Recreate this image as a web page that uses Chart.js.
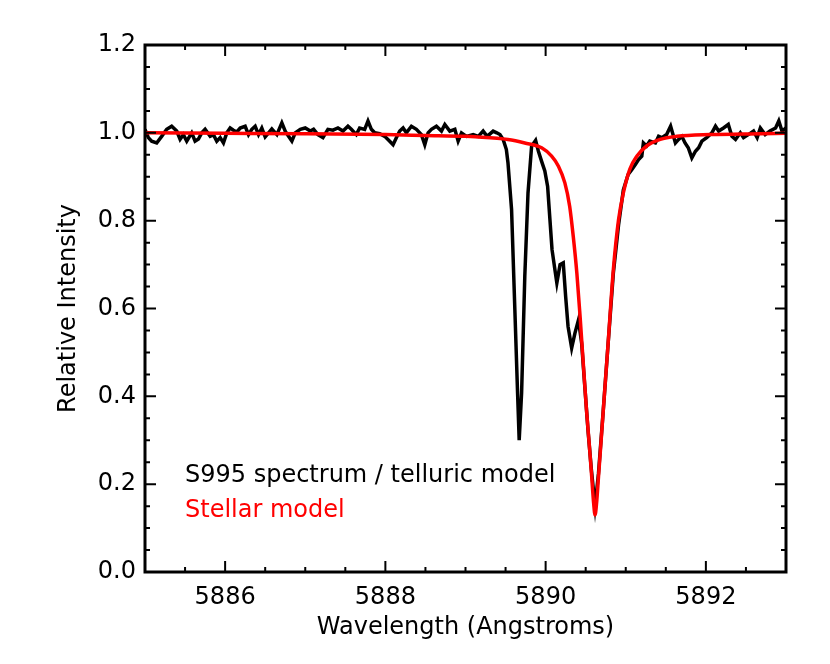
<!DOCTYPE html>
<html>
<head>
<meta charset="utf-8">
<script src="https://cdn.jsdelivr.net/npm/chart.js@4/dist/chart.umd.min.js"></script>
<style>
  body { margin: 0; background: #fff; }
  canvas { display: block; }
</style>
</head>
<body>
<canvas id="spectrum" width="830" height="664"></canvas>
<script>
// Observed spectrum (divided by telluric model)
var blackWave = [
  5885.000, 5885.042, 5885.083, 5885.146, 5885.208, 5885.271, 5885.333, 5885.396, 5885.438, 5885.479,
  5885.521, 5885.583, 5885.625, 5885.667, 5885.708, 5885.750, 5885.813, 5885.854, 5885.896, 5885.938,
  5885.979, 5886.021, 5886.063, 5886.104, 5886.146, 5886.188, 5886.250, 5886.292, 5886.333, 5886.375,
  5886.417, 5886.458, 5886.500, 5886.542, 5886.583, 5886.646, 5886.708, 5886.750, 5886.792, 5886.833,
  5886.875, 5886.938, 5887.000, 5887.063, 5887.104, 5887.158, 5887.221, 5887.283, 5887.346, 5887.408,
  5887.471, 5887.533, 5887.575, 5887.637, 5887.679, 5887.742, 5887.783, 5887.825, 5887.867, 5887.929,
  5887.992, 5888.054, 5888.096, 5888.137, 5888.179, 5888.221, 5888.262, 5888.325, 5888.387, 5888.450,
  5888.492, 5888.533, 5888.575, 5888.637, 5888.700, 5888.742, 5888.804, 5888.867, 5888.908, 5888.950,
  5889.012, 5889.096, 5889.160, 5889.220, 5889.270, 5889.345, 5889.390, 5889.430, 5889.470, 5889.510,
  5889.530, 5889.575, 5889.616, 5889.650, 5889.670, 5889.700, 5889.740, 5889.780, 5889.825, 5889.875,
  5889.910, 5889.950, 5889.990, 5890.025, 5890.054, 5890.080, 5890.116, 5890.140, 5890.180, 5890.220,
  5890.250, 5890.280, 5890.325, 5890.366, 5890.410, 5890.450, 5890.490, 5890.530, 5890.570, 5890.617,
  5890.660, 5890.720, 5890.780, 5890.845, 5890.910, 5890.970, 5891.030, 5891.075, 5891.120, 5891.160,
  5891.200, 5891.220, 5891.260, 5891.300, 5891.370, 5891.410, 5891.450, 5891.510, 5891.560, 5891.620,
  5891.660, 5891.700, 5891.740, 5891.780, 5891.825, 5891.870, 5891.910, 5891.950, 5892.010, 5892.075,
  5892.120, 5892.160, 5892.220, 5892.280, 5892.325, 5892.370, 5892.430, 5892.470, 5892.530, 5892.595,
  5892.640, 5892.680, 5892.740, 5892.800, 5892.870, 5892.910, 5892.950, 5893.000
];
var blackFlux = [
  1.008, 0.989, 0.981, 0.977, 0.992, 1.008, 1.015, 1.004, 0.985, 0.996,
  0.981, 1.000, 0.981, 0.986, 1.000, 1.008, 0.992, 0.996, 0.981, 0.989,
  0.977, 1.000, 1.011, 1.006, 1.002, 1.011, 1.015, 0.996, 1.008, 1.015,
  0.996, 1.011, 0.991, 1.000, 1.009, 0.996, 1.023, 1.004, 0.992, 0.981,
  1.000, 1.008, 1.011, 1.004, 1.008, 0.996, 0.989, 1.008, 1.006, 1.011,
  1.004, 1.015, 1.008, 0.996, 1.011, 1.008, 1.027, 1.008, 1.000, 0.998,
  0.992, 0.981, 0.973, 0.989, 1.004, 1.011, 1.000, 1.015, 1.008, 0.996,
  0.973, 1.000, 1.008, 1.015, 1.004, 1.019, 1.004, 1.008, 0.981, 1.000,
  0.992, 0.996, 0.992, 1.004, 0.992, 1.004, 1.000, 0.996, 0.985, 0.962,
  0.932, 0.825, 0.597, 0.407, 0.300, 0.407, 0.673, 0.863, 0.970, 0.983,
  0.958, 0.935, 0.913, 0.878, 0.802, 0.734, 0.688, 0.658, 0.700, 0.704,
  0.627, 0.559, 0.510, 0.544, 0.574, 0.520, 0.420, 0.320, 0.235, 0.150,
  0.225, 0.370, 0.520, 0.680, 0.790, 0.870, 0.905, 0.916, 0.928, 0.939,
  0.947, 0.977, 0.970, 0.981, 0.977, 0.992, 0.989, 0.996, 1.015, 0.977,
  0.985, 0.992, 0.977, 0.966, 0.943, 0.958, 0.966, 0.981, 0.989, 1.000,
  1.015, 1.004, 1.011, 1.019, 0.992, 0.985, 1.000, 0.989, 0.996, 1.004,
  0.989, 1.011, 0.996, 1.004, 1.011, 1.027, 1.004, 1.011
];

// Stellar model
var redWave = [
  5885.00, 5886.00, 5887.00, 5888.00, 5888.50, 5889.00, 5889.12, 5889.53, 5889.74, 5889.95,
  5890.075, 5890.16, 5890.24, 5890.30, 5890.345, 5890.39, 5890.43, 5890.47, 5890.51, 5890.55,
  5890.575, 5890.60, 5890.617, 5890.635, 5890.66, 5890.72, 5890.78, 5890.845, 5890.91, 5890.97,
  5891.05, 5891.14, 5891.26, 5891.43, 5891.64, 5892.05, 5892.68, 5893.00
];
var redFlux = [
  1.000, 0.999, 0.998, 0.996, 0.994, 0.992, 0.991, 0.985, 0.977, 0.966,
  0.947, 0.924, 0.886, 0.833, 0.764, 0.680, 0.582, 0.475, 0.369, 0.278,
  0.217, 0.155, 0.130, 0.155, 0.217, 0.369, 0.521, 0.688, 0.802, 0.863,
  0.917, 0.947, 0.970, 0.985, 0.992, 0.996, 0.998, 0.999
];

var xTickValues = [5886, 5888, 5890, 5892];
var yTickValues = [0.0, 0.2, 0.4, 0.6, 0.8, 1.0, 1.2];

var labelFont = { family: 'DejaVu Sans', size: 24 };

function toPoints(xs, ys) {
    var pts = [];
    for (var i = 0; i < xs.length; i++) {
        pts.push({ x: xs[i], y: ys[i] });
    }
    return pts;
}

// IDL style box with inward ticks on all four sides
var frameTicks = {
    id: 'frameTicks',
    afterDraw: function(chart) {
        var ctx = chart.ctx;
        var a = chart.chartArea;
        var xs = chart.scales.x;
        var ys = chart.scales.y;
        ctx.save();
        ctx.strokeStyle = '#000';
        ctx.lineWidth = 2;
        ctx.beginPath();
        for (var i = 0; i <= 16; i++) {
            var v = 5885 + i * 0.5;
            var px = xs.getPixelForValue(v);
            var len = (v % 2 === 0) ? 11 : 5;
            ctx.moveTo(px, a.bottom);
            ctx.lineTo(px, a.bottom - len);
            ctx.moveTo(px, a.top);
            ctx.lineTo(px, a.top + len);
        }
        for (var j = 0; j <= 24; j++) {
            var py = ys.getPixelForValue(j * 0.05);
            var l2 = (j % 4 === 0) ? 11 : 5;
            ctx.moveTo(a.left, py);
            ctx.lineTo(a.left + l2, py);
            ctx.moveTo(a.right, py);
            ctx.lineTo(a.right - l2, py);
        }
        ctx.stroke();
        ctx.lineWidth = 3;
        ctx.strokeRect(a.left, a.top, a.right - a.left, a.bottom - a.top);

        // annotation text
        ctx.font = '24px "DejaVu Sans"';
        ctx.textAlign = 'left';
        ctx.textBaseline = 'middle';
        ctx.fillStyle = '#000';
        ctx.fillText('S995 spectrum / telluric model', a.left + 40, ys.getPixelForValue(0.22));
        ctx.fillStyle = '#ff0000';
        ctx.fillText('Stellar model', a.left + 40, ys.getPixelForValue(0.14));
        ctx.restore();
    }
};

var chart = new Chart(document.getElementById('spectrum').getContext('2d'), {
    type: 'line',
    data: {
        datasets: [{
            label: 'S995 spectrum / telluric model',
            data: toPoints(blackWave, blackFlux),
            borderColor: '#000',
            borderWidth: 3.5,
            pointRadius: 0,
            tension: 0,
            order: 1
        }, {
            label: 'Stellar model',
            data: toPoints(redWave, redFlux),
            borderColor: '#ff0000',
            borderWidth: 3.5,
            pointRadius: 0,
            cubicInterpolationMode: 'monotone',
            order: 0
        }]
    },
    options: {
        responsive: false,
        animation: false,
        devicePixelRatio: 1,
        layout: { padding: { top: 45, right: 44, left: 0, bottom: 0 } },
        plugins: { legend: { display: false }, tooltip: { enabled: false } },
        scales: {
            x: {
                type: 'linear',
                min: 5885,
                max: 5893,
                grid: { display: false, drawTicks: false },
                border: { display: false },
                afterBuildTicks: function(scale) {
                    scale.ticks = xTickValues.map(function(v) { return { value: v }; });
                },
                afterFit: function(scale) { scale.height = 92; },
                ticks: {
                    color: '#000',
                    font: labelFont,
                    padding: 11,
                    maxRotation: 0,
                    callback: function(v) { return String(v); }
                },
                title: {
                    display: true,
                    text: 'Wavelength (Angstroms)',
                    color: '#000',
                    font: labelFont,
                    padding: { top: 0, bottom: 22 }
                }
            },
            y: {
                type: 'linear',
                min: 0,
                max: 1.2,
                grid: { display: false, drawTicks: false },
                border: { display: false },
                afterBuildTicks: function(scale) {
                    scale.ticks = yTickValues.map(function(v) { return { value: v }; });
                },
                afterFit: function(scale) { scale.width = 145; },
                ticks: {
                    color: '#000',
                    font: labelFont,
                    padding: 9,
                    callback: function(v) { return v.toFixed(1); }
                },
                title: {
                    display: true,
                    text: 'Relative Intensity',
                    color: '#000',
                    font: labelFont,
                    padding: { top: 54, bottom: 0 }
                }
            }
        }
    },
    plugins: [frameTicks]
});
</script>
</body>
</html>
